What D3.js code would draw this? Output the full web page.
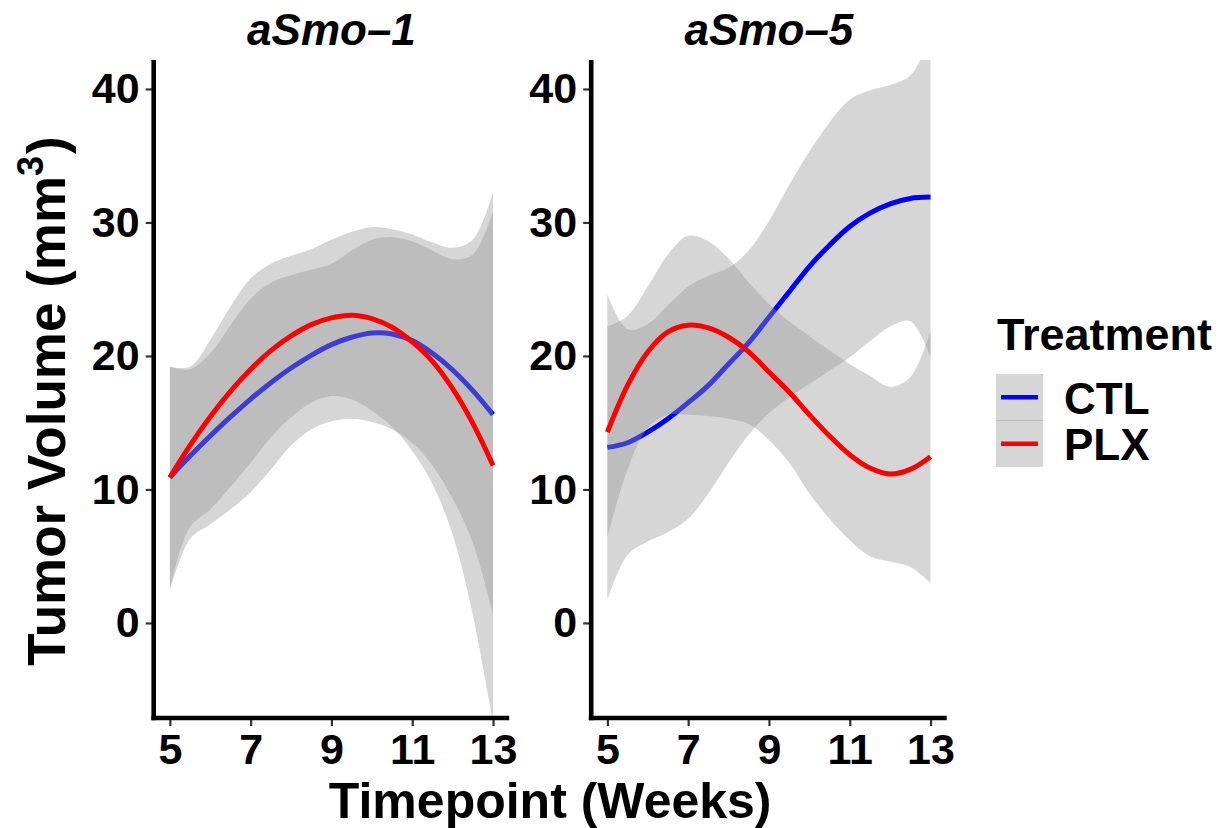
<!DOCTYPE html>
<html>
<head>
<meta charset="utf-8">
<script src="https://cdn.jsdelivr.net/npm/d3@7"></script>
<style>
body { margin: 0; background: #fff; }
text { font-family: "Liberation Sans", Arial, sans-serif; font-weight: bold; fill: #000; }
</style>
</head>
<body>
<div id="chart"></div>
<script>
var weeks = [5, 5.5, 6, 6.5, 7, 7.5, 8, 8.5, 9, 9.5, 10, 10.5, 11, 11.5, 12, 12.5, 13];

// aSmo-1, loess fit and band
var smo1CtlFit  = [10.9, 12.5, 14.0, 15.43, 16.77, 18.0, 19.1, 20.05, 20.85, 21.4, 21.72, 21.65, 21.15, 20.2, 18.95, 17.4, 15.6];
var smo1CtlLow  = [2.4, 6.3, 7.4, 8.5, 9.8, 11.5, 13.3, 14.5, 15.1, 15.3, 15.05, 14.5, 13.5, 11.8, 9.3, 6.0, 0.6];
var smo1CtlHigh = [19.2, 19.0, 20.2, 22.3, 24.3, 25.5, 26.05, 26.45, 26.9, 27.9, 28.7, 28.9, 28.6, 27.9, 27.25, 27.6, 30.8];
var smo1PlxFit  = [10.9, 13.3, 15.45, 17.35, 19.0, 20.4, 21.5, 22.35, 22.85, 23.05, 22.8, 22.15, 21.05, 19.6, 17.55, 14.95, 11.8];
var smo1PlxLow  = [2.6, 7.2, 8.5, 10.2, 12.0, 13.9, 15.4, 16.5, 17.0, 16.75, 15.9, 14.7, 12.9, 10.4, 6.6, 0.6, -7.5];
var smo1PlxHigh = [19.2, 19.2, 21.2, 23.7, 25.8, 26.9, 27.5, 28.0, 28.7, 29.3, 29.65, 29.5, 29.1, 28.5, 28.1, 28.7, 32.3];

// aSmo-5
var smo5CtlFit  = [13.15, 13.5, 14.3, 15.3, 16.5, 17.8, 19.4, 21.0, 22.9, 24.8, 26.7, 28.3, 29.7, 30.7, 31.4, 31.8, 31.9];
var smo5CtlLow  = [1.7, 5.1, 6.1, 6.8, 7.8, 9.7, 12.0, 14.1, 15.7, 16.9, 17.9, 18.9, 19.9, 21.1, 22.2, 22.6, 19.9];
var smo5CtlHigh = [24.6, 22.0, 22.4, 23.8, 25.2, 26.0, 26.6, 27.9, 30.1, 32.8, 35.3, 37.5, 39.2, 39.9, 40.3, 41.0, 43.9];
var smo5PlxFit  = [14.3, 17.8, 20.3, 21.8, 22.3, 22.1, 21.4, 20.3, 18.8, 17.3, 15.6, 14.0, 12.6, 11.6, 11.15, 11.5, 12.45];
var smo5PlxLow  = [6.4, 11.5, 14.6, 15.6, 15.6, 15.5, 15.3, 14.9, 13.7, 12.0, 9.7, 7.8, 6.2, 5.0, 4.6, 4.2, 3.0];
var smo5PlxHigh = [22.2, 23.0, 25.2, 27.6, 29.0, 28.6, 27.3, 25.5, 23.9, 22.6, 21.5, 20.4, 19.4, 18.5, 17.7, 18.4, 21.9];

var panelNames = ["aSmo\u20131", "aSmo\u20135"];
var treatments = ["CTL", "PLX"];
var lineColors = ["#0000ff", "#ff0000"];
var xTicks = [5, 7, 9, 11, 13];
var yTicks = [0, 10, 20, 30, 40];

var width = 1219, height = 828;
var panelW = 355.5, panelH = 658, panelTop = 60;
var panelLefts = [153.7, 591.2];

var panels = [
	{name: panelNames[0], series: [
		{fit: smo1CtlFit, lo: smo1CtlLow, hi: smo1CtlHigh},
		{fit: smo1PlxFit, lo: smo1PlxLow, hi: smo1PlxHigh}]},
	{name: panelNames[1], series: [
		{fit: smo5CtlFit, lo: smo5CtlLow, hi: smo5CtlHigh},
		{fit: smo5PlxFit, lo: smo5PlxLow, hi: smo5PlxHigh}]}
];

var x = d3.scaleLinear().domain([4.6, 13.4]).range([0, panelW]);
var y = d3.scaleLinear().domain([-7.12, 42.17]).range([panelH, 0]);

var svg = d3.select("#chart")
	.append("svg")
	.attr("width", width)
	.attr("height", height);

var band = d3.area()
	.x(function(d){ return x(d.x); })
	.y0(function(d){ return y(d.lo); })
	.y1(function(d){ return y(d.hi); })
	.curve(d3.curveCatmullRom);

var fitLine = d3.line()
	.x(function(d){ return x(d.x); })
	.y(function(d){ return y(d.fit); })
	.curve(d3.curveCatmullRom);

svg.append("defs").append("clipPath")
	.attr("id", "panelClip")
	.append("rect")
	.attr("width", panelW)
	.attr("height", panelH);

panels.forEach(function(p, pi){
	var g = svg.append("g")
		.attr("transform", "translate(" + panelLefts[pi] + "," + panelTop + ")");

	var plot = g.append("g").attr("clip-path", "url(#panelClip)");
	// ribbon then line per group, CTL first, like ggplot draws it
	p.series.forEach(function(s, si){
		var pts = weeks.map(function(w, i){
			return {x: w, fit: s.fit[i], lo: s.lo[i], hi: s.hi[i]};
		});
		plot.append("path")
			.datum(pts)
			.attr("d", band)
			.style("fill", "#999999")
			.style("fill-opacity", 0.4);
		plot.append("path")
			.datum(pts)
			.attr("d", fitLine)
			.style("fill", "none")
			.style("stroke", lineColors[si])
			.style("stroke-width", 5);
	});

	// axes
	var yAxis = g.append("g")
		.call(d3.axisLeft(y).tickValues(yTicks).tickSize(8).tickPadding(6));
	var xAxis = g.append("g")
		.attr("transform", "translate(0," + panelH + ")")
		.call(d3.axisBottom(x).tickValues(xTicks).tickSize(8).tickPadding(7));
	[xAxis, yAxis].forEach(function(a){
		a.select(".domain").remove();
		a.selectAll(".tick line").style("stroke", "#333333").style("stroke-width", 2.2);
		a.selectAll(".tick text")
			.attr("font-family", null)
			.style("font-size", "43px")
			.style("fill", "#000");
	});
	g.append("line")
		.attr("x1", 0).attr("x2", 0)
		.attr("y1", 0).attr("y2", panelH + 2.3)
		.style("stroke", "#000")
		.style("stroke-width", 4.6);
	g.append("line")
		.attr("x1", -2.3).attr("x2", panelW)
		.attr("y1", panelH).attr("y2", panelH)
		.style("stroke", "#000")
		.style("stroke-width", 4.6);

	// strip title
	g.append("text")
		.attr("x", panelW / 2)
		.attr("y", -15)
		.style("text-anchor", "middle")
		.style("font-size", "44px")
		.style("font-style", "italic")
		.text(p.name);
});

// axis titles
svg.append("text")
	.attr("x", (panelLefts[0] + panelLefts[1] + panelW) / 2)
	.attr("y", 818)
	.style("text-anchor", "middle")
	.style("font-size", "50px")
	.text("Timepoint (Weeks)");

var yTitle = svg.append("text")
	.attr("transform", "translate(65," + (panelTop + panelH / 2 + 12) + ") rotate(-90)")
	.style("text-anchor", "middle")
	.style("font-size", "53px");
yTitle.append("tspan").text("Tumor Volume (mm");
yTitle.append("tspan").attr("dy", -22).style("font-size", "36px").text("3");
yTitle.append("tspan").attr("dy", 22).attr("dx", 2).text(")");

// legend
var legend = svg.append("g").attr("transform", "translate(996,0)");
legend.append("text")
	.attr("x", 1)
	.attr("y", 350)
	.style("font-size", "45px")
	.text("Treatment");
treatments.forEach(function(t, i){
	var top = 374 + i * 46.5;
	legend.append("rect")
		.attr("x", 0).attr("y", top)
		.attr("width", 47).attr("height", 46.5)
		.style("fill", "#999999")
		.style("fill-opacity", 0.4);
	legend.append("line")
		.attr("x1", 5).attr("x2", 42)
		.attr("y1", top + 23.3).attr("y2", top + 23.3)
		.style("stroke", lineColors[i])
		.style("stroke-width", 4.5);
	legend.append("text")
		.attr("x", 68)
		.attr("y", top + 39.5)
		.style("font-size", "44px")
		.text(t);
});
legend.append("line")
	.attr("x1", 0).attr("x2", 47)
	.attr("y1", 420.5).attr("y2", 420.5)
	.style("stroke", "#bdbdbd")
	.style("stroke-width", 1);
</script>
</body>
</html>
